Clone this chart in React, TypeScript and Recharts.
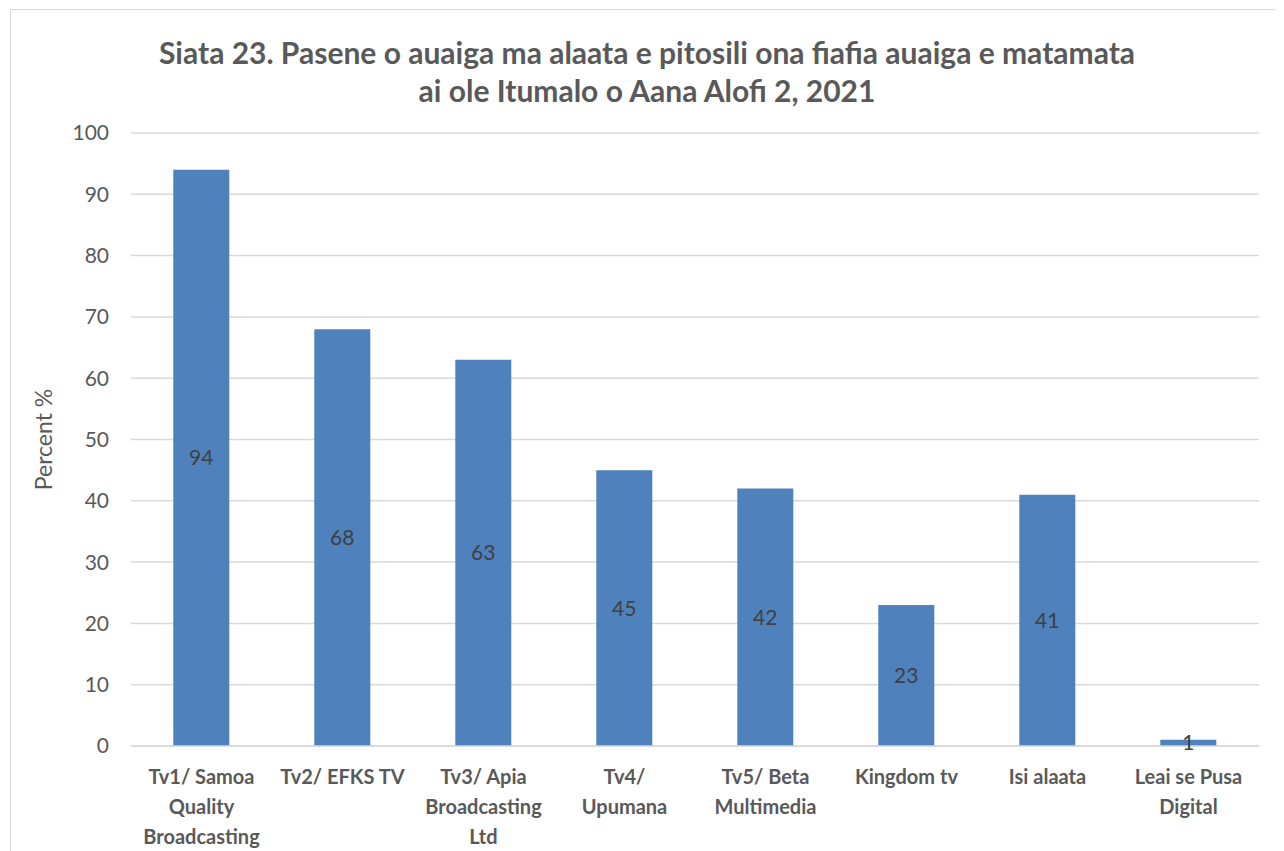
import { BarChart, Bar, XAxis, YAxis, CartesianGrid, LabelList } from "recharts";

const categories = [
    "Tv1/ Samoa Quality Broadcasting",
    "Tv2/ EFKS TV",
    "Tv3/ Apia Broadcasting Ltd",
    "Tv4/ Upumana",
    "Tv5/ Beta Multimedia",
    "Kingdom tv",
    "Isi alaata",
    "Leai se Pusa Digital",
];
// how each category label is broken into lines under the axis
const categoryLines = [
    ["Tv1/ Samoa", "Quality", "Broadcasting"],
    ["Tv2/ EFKS TV"],
    ["Tv3/ Apia", "Broadcasting", "Ltd"],
    ["Tv4/", "Upumana"],
    ["Tv5/ Beta", "Multimedia"],
    ["Kingdom tv"],
    ["Isi alaata"],
    ["Leai se Pusa", "Digital"],
];
const percents = [94, 68, 63, 45, 42, 23, 41, 1];
const yTicks = [0, 10, 20, 30, 40, 50, 60, 70, 80, 90, 100];

const data = categories.map((name, i) => ({ name, value: percents[i] }));

const FONT = "Lato, 'Open Sans', sans-serif";
const GREY = "#595959";

const XTick = (props: any) => {
    const { x, y, payload } = props;
    const idx = categories.indexOf(payload.value);
    const lines = idx >= 0 ? categoryLines[idx] : [payload.value];
    return (
        <text
            x={x}
            y={y + 30}
            textAnchor="middle"
            fill={GREY}
            fontSize={20}
            fontWeight="bold"
            fontFamily={FONT}
        >
            {lines.map((l, i) => (
                <tspan key={i} x={x} dy={i === 0 ? 0 : 30}>
                    {l}
                </tspan>
            ))}
        </text>
    );
};

export default function App() {
    return (
        <div
            style={{
                position: "relative",
                marginLeft: 2,
                marginTop: 1,
                width: 1272,
                height: 860,
                border: "1px solid #d9d9d9",
                boxSizing: "border-box",
                background: "#fff",
                fontFamily: FONT,
            }}
        >
            <div
                style={{
                    position: "absolute",
                    top: 23,
                    left: 0,
                    width: 1272,
                    textAlign: "center",
                    color: GREY,
                    fontSize: 30,
                    fontWeight: "bold",
                    lineHeight: "38px",
                }}
            >
                Siata 23. Pasene o auaiga ma alaata e pitosili ona fiafia auaiga e matamata
                <br />
                ai ole Itumalo o Aana Alofi 2, 2021
            </div>
            <BarChart
                width={1272}
                height={842}
                data={data}
                margin={{ top: 123, right: 24, left: 0, bottom: 0 }}
                barCategoryGap="30%"
            >
                <CartesianGrid vertical={false} stroke="#d9d9d9" strokeWidth={1.5} />
                <XAxis
                    dataKey="name"
                    interval={0}
                    height={106}
                    tickLine={false}
                    axisLine={{ stroke: "#d9d9d9", strokeWidth: 1.5 }}
                    tick={<XTick />}
                />
                <YAxis
                    width={120}
                    domain={[0, 100]}
                    ticks={yTicks}
                    interval={0}
                    tickLine={false}
                    axisLine={false}
                    tickSize={0}
                    tickMargin={22}
                    tick={{ fill: GREY, fontSize: 21, fontFamily: FONT }}
                    label={{
                        value: "Percent %",
                        angle: -90,
                        position: "insideLeft",
                        offset: 33,
                        fill: GREY,
                        fontSize: 23,
                        fontFamily: FONT,
                        style: { textAnchor: "middle" },
                    }}
                />
                <Bar dataKey="value" fill="#4f81bd" isAnimationActive={false}>
                    <LabelList
                        dataKey="value"
                        position="center"
                        fill="#404040"
                        fontSize={21}
                        fontFamily={FONT}
                    />
                </Bar>
            </BarChart>
        </div>
    );
}
